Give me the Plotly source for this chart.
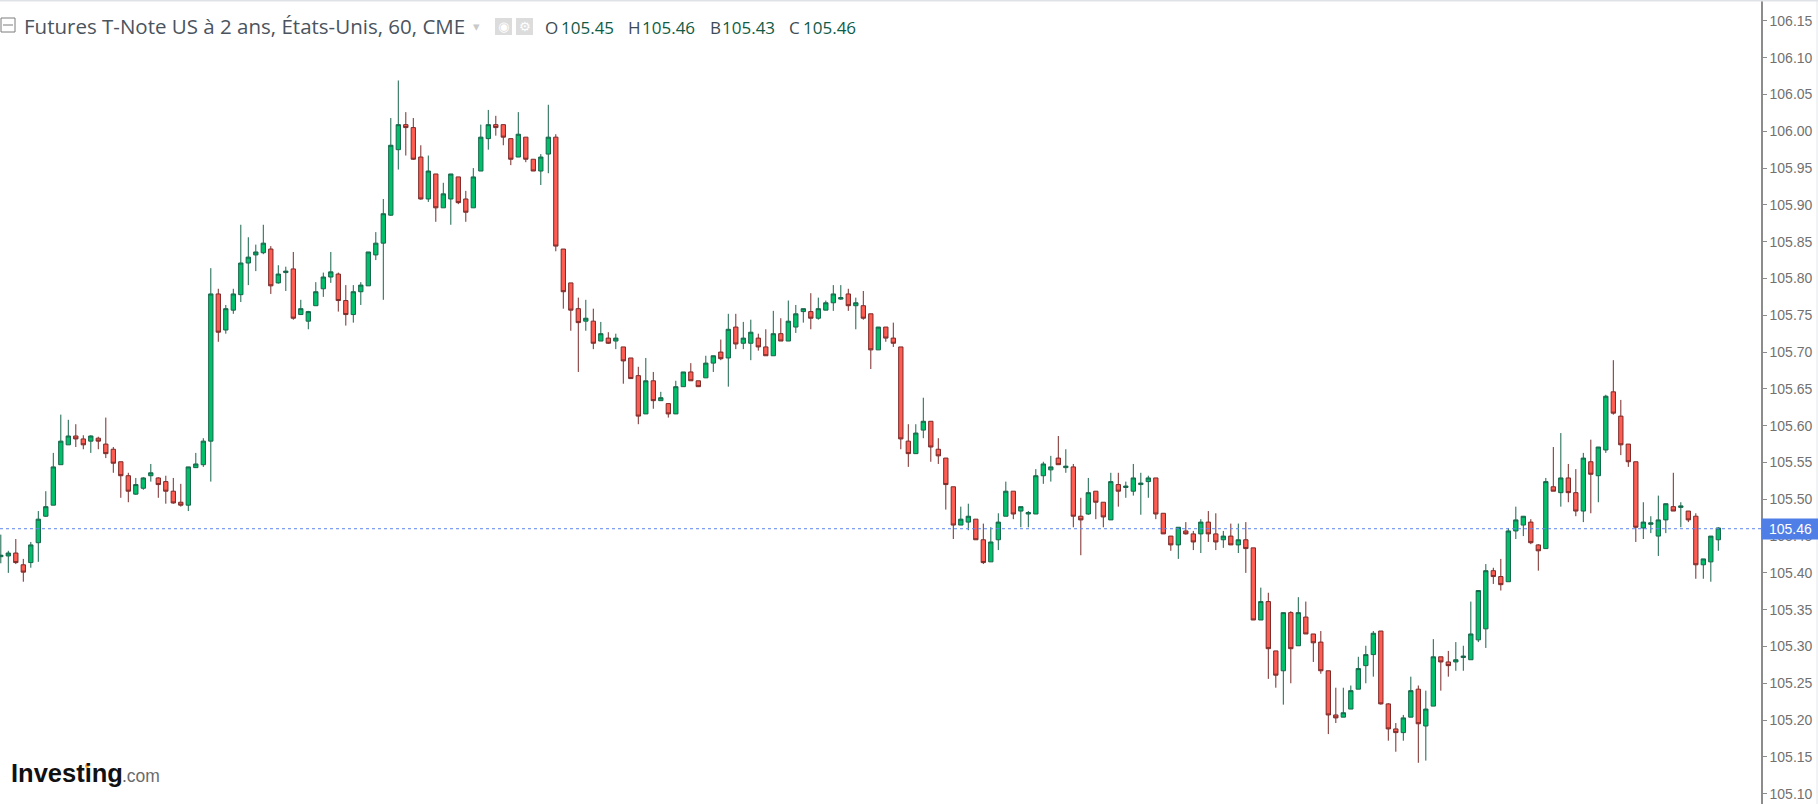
import plotly.graph_objects as go

# hourly candles, oldest first
opens = [
    105.422, 105.423, 105.427, 105.411, 105.414, 105.441, 105.477, 105.492, 105.547, 105.574,
    105.586, 105.582, 105.579, 105.583, 105.575, 105.568, 105.551, 105.532, 105.507, 105.515,
    105.532, 105.529, 105.524, 105.511, 105.496, 105.492, 105.543, 105.547, 105.579, 105.779,
    105.730, 105.757, 105.778, 105.821, 105.832, 105.835, 105.840, 105.794, 105.808, 105.813,
    105.751, 105.742, 105.763, 105.786, 105.802, 105.806, 105.770, 105.751, 105.782, 105.790,
    105.832, 105.848, 105.886, 105.975, 106.009, 106.005, 105.965, 105.908, 105.942, 105.896,
    105.908, 105.938, 105.908, 105.896, 105.946, 105.990, 106.009, 106.009, 105.990, 105.965,
    105.992, 105.962, 105.946, 105.969, 105.992, 105.840, 105.794, 105.759, 105.742, 105.742,
    105.715, 105.719, 105.715, 105.707, 105.692, 105.668, 105.616, 105.661, 105.634, 105.630,
    105.616, 105.653, 105.673, 105.661, 105.665, 105.685, 105.700, 105.692, 105.734, 105.712,
    105.712, 105.719, 105.707, 105.695, 105.725, 105.715, 105.734, 105.755, 105.755, 105.746,
    105.757, 105.767, 105.772, 105.779, 105.763, 105.763, 105.752, 105.703, 105.734, 105.719,
    105.707, 105.579, 105.562, 105.594, 105.606, 105.568, 105.556, 105.517, 105.465, 105.469,
    105.473, 105.445, 105.415, 105.445, 105.477, 105.511, 105.484, 105.480, 105.480, 105.532,
    105.540, 105.556, 105.543, 105.544, 105.477, 105.480, 105.511, 105.496, 105.472, 105.520,
    105.516, 105.511, 105.520, 105.524, 105.529, 105.481, 105.450, 105.438, 105.457, 105.453,
    105.453, 105.469, 105.453, 105.445, 105.450, 105.438, 105.445, 105.434, 105.336, 105.361,
    105.294, 105.267, 105.346, 105.301, 105.340, 105.317, 105.306, 105.267, 105.207, 105.204,
    105.215, 105.242, 105.274, 105.289, 105.321, 105.222, 105.188, 105.183, 105.204, 105.242,
    105.192, 105.219, 105.286, 105.279, 105.279, 105.285, 105.282, 105.309, 105.324, 105.403,
    105.395, 105.388, 105.457, 105.465, 105.469, 105.438, 105.433, 105.517, 105.509, 105.529,
    105.509, 105.484, 105.551, 105.532, 105.567, 105.646, 105.613, 105.575, 105.551, 105.461,
    105.466, 105.450, 105.472, 105.490, 105.489, 105.484, 105.477, 105.411, 105.415, 105.445,
]
highs = [
    105.452, 105.430, 105.446, 105.419, 105.442, 105.484, 105.511, 105.563, 105.615, 105.608,
    105.602, 105.587, 105.587, 105.585, 105.611, 105.571, 105.551, 105.536, 105.529, 105.530,
    105.548, 105.530, 105.532, 105.529, 105.521, 105.544, 105.563, 105.583, 105.814, 105.786,
    105.764, 105.786, 105.873, 105.856, 105.846, 105.873, 105.844, 105.818, 105.816, 105.836,
    105.771, 105.756, 105.795, 105.808, 105.836, 105.808, 105.791, 105.791, 105.795, 105.836,
    105.863, 105.908, 106.018, 106.069, 106.026, 106.018, 105.981, 105.967, 105.942, 105.930,
    105.942, 105.938, 105.919, 105.950, 106.009, 106.029, 106.021, 106.009, 105.990, 106.026,
    105.992, 105.962, 105.969, 106.036, 105.996, 105.840, 105.794, 105.774, 105.771, 105.759,
    105.741, 105.727, 105.725, 105.707, 105.692, 105.680, 105.692, 105.673, 105.646, 105.630,
    105.661, 105.673, 105.685, 105.661, 105.695, 105.695, 105.717, 105.752, 105.752, 105.741,
    105.744, 105.725, 105.731, 105.756, 105.746, 105.770, 105.764, 105.759, 105.780, 105.774,
    105.770, 105.791, 105.791, 105.786, 105.774, 105.783, 105.752, 105.734, 105.734, 105.740,
    105.707, 105.602, 105.602, 105.638, 105.606, 105.583, 105.556, 105.517, 105.490, 105.494,
    105.473, 105.467, 105.462, 105.481, 105.524, 105.511, 105.490, 105.484, 105.541, 105.551,
    105.559, 105.586, 105.568, 105.548, 105.502, 105.529, 105.511, 105.496, 105.536, 105.536,
    105.524, 105.548, 105.536, 105.532, 105.529, 105.481, 105.450, 105.462, 105.469, 105.457,
    105.473, 105.484, 105.481, 105.457, 105.467, 105.467, 105.469, 105.434, 105.380, 105.373,
    105.294, 105.346, 105.348, 105.367, 105.361, 105.317, 105.321, 105.267, 105.244, 105.244,
    105.247, 105.286, 105.301, 105.321, 105.321, 105.223, 105.196, 105.207, 105.259, 105.247,
    105.240, 105.310, 105.286, 105.294, 105.306, 105.301, 105.361, 105.376, 105.412, 105.407,
    105.419, 105.461, 105.490, 105.477, 105.473, 105.439, 105.529, 105.571, 105.590, 105.548,
    105.541, 105.563, 105.581, 105.571, 105.642, 105.689, 105.635, 105.575, 105.551, 105.496,
    105.477, 105.505, 105.494, 105.536, 105.496, 105.484, 105.481, 105.419, 105.450, 105.462,
]
lows = [
    105.413, 105.400, 105.412, 105.388, 105.407, 105.415, 105.476, 105.492, 105.547, 105.574,
    105.571, 105.568, 105.563, 105.568, 105.556, 105.536, 105.502, 105.496, 105.506, 105.513,
    105.524, 105.502, 105.494, 105.494, 105.490, 105.484, 105.543, 105.544, 105.524, 105.714,
    105.725, 105.752, 105.768, 105.791, 105.810, 105.833, 105.779, 105.793, 105.783, 105.744,
    105.751, 105.731, 105.763, 105.775, 105.794, 105.755, 105.736, 105.740, 105.764, 105.790,
    105.825, 105.771, 105.885, 105.948, 105.967, 105.961, 105.907, 105.904, 105.877, 105.896,
    105.873, 105.901, 105.877, 105.896, 105.946, 105.975, 105.994, 105.981, 105.954, 105.965,
    105.958, 105.946, 105.927, 105.943, 105.837, 105.759, 105.729, 105.673, 105.729, 105.704,
    105.715, 105.711, 105.704, 105.657, 105.664, 105.602, 105.616, 105.623, 105.634, 105.611,
    105.616, 105.653, 105.661, 105.653, 105.665, 105.673, 105.689, 105.653, 105.704, 105.704,
    105.689, 105.702, 105.695, 105.695, 105.715, 105.715, 105.726, 105.740, 105.731, 105.744,
    105.757, 105.756, 105.771, 105.756, 105.731, 105.744, 105.677, 105.703, 105.714, 105.707,
    105.568, 105.544, 105.562, 105.583, 105.551, 105.548, 105.486, 105.446, 105.465, 105.458,
    105.445, 105.412, 105.415, 105.431, 105.477, 105.473, 105.462, 105.462, 105.480, 105.521,
    105.524, 105.547, 105.536, 105.462, 105.424, 105.479, 105.473, 105.462, 105.472, 105.490,
    105.502, 105.505, 105.479, 105.502, 105.473, 105.453, 105.430, 105.419, 105.452, 105.431,
    105.427, 105.442, 105.431, 105.434, 105.438, 105.427, 105.400, 105.336, 105.336, 105.256,
    105.244, 105.221, 105.250, 105.301, 105.317, 105.279, 105.263, 105.181, 105.196, 105.204,
    105.215, 105.242, 105.250, 105.259, 105.221, 105.172, 105.157, 105.172, 105.204, 105.142,
    105.145, 105.219, 105.240, 105.259, 105.267, 105.267, 105.282, 105.306, 105.298, 105.385,
    105.376, 105.388, 105.446, 105.450, 105.439, 105.403, 105.433, 105.511, 105.490, 105.496,
    105.477, 105.469, 105.481, 105.496, 105.563, 105.615, 105.560, 105.544, 105.442, 105.446,
    105.454, 105.423, 105.454, 105.484, 105.462, 105.469, 105.392, 105.392, 105.388, 105.430,
]
closes = [
    105.424, 105.427, 105.414, 105.401, 105.438, 105.473, 105.490, 105.544, 105.579, 105.586,
    105.582, 105.574, 105.586, 105.579, 105.562, 105.549, 105.532, 105.511, 105.520, 105.529,
    105.536, 105.520, 105.511, 105.495, 105.492, 105.544, 105.548, 105.579, 105.779, 105.727,
    105.759, 105.779, 105.821, 105.829, 105.836, 105.848, 105.790, 105.806, 105.810, 105.746,
    105.759, 105.755, 105.782, 105.802, 105.809, 105.770, 105.751, 105.782, 105.791, 105.836,
    105.848, 105.888, 105.981, 106.009, 106.005, 105.962, 105.908, 105.946, 105.896, 105.915,
    105.942, 105.903, 105.890, 105.938, 105.992, 106.009, 106.005, 105.992, 105.962, 105.996,
    105.962, 105.946, 105.965, 105.992, 105.844, 105.782, 105.757, 105.740, 105.746, 105.712,
    105.725, 105.712, 105.719, 105.688, 105.664, 105.613, 105.661, 105.634, 105.638, 105.616,
    105.653, 105.673, 105.661, 105.653, 105.685, 105.695, 105.691, 105.731, 105.711, 105.719,
    105.727, 105.707, 105.695, 105.725, 105.715, 105.742, 105.752, 105.759, 105.746, 105.759,
    105.767, 105.779, 105.774, 105.763, 105.767, 105.746, 105.703, 105.734, 105.719, 105.712,
    105.582, 105.562, 105.590, 105.606, 105.571, 105.559, 105.520, 105.465, 105.473, 105.477,
    105.445, 105.414, 105.442, 105.469, 105.511, 105.480, 105.490, 105.482, 105.532, 105.548,
    105.544, 105.547, 105.545, 105.477, 105.472, 105.509, 105.496, 105.476, 105.524, 105.511,
    105.518, 105.529, 105.522, 105.529, 105.480, 105.453, 105.438, 105.462, 105.453, 105.442,
    105.469, 105.453, 105.442, 105.450, 105.438, 105.445, 105.433, 105.336, 105.361, 105.297,
    105.261, 105.346, 105.297, 105.346, 105.317, 105.305, 105.267, 105.207, 105.203, 105.210,
    105.240, 105.270, 105.289, 105.318, 105.222, 105.188, 105.183, 105.203, 105.240, 105.195,
    105.215, 105.286, 105.279, 105.274, 105.282, 105.287, 105.317, 105.376, 105.403, 105.395,
    105.384, 105.457, 105.472, 105.477, 105.441, 105.430, 105.524, 105.511, 105.529, 105.509,
    105.484, 105.556, 105.534, 105.571, 105.640, 105.617, 105.574, 105.551, 105.462, 105.469,
    105.468, 105.472, 105.494, 105.484, 105.491, 105.472, 105.411, 105.419, 105.450, 105.461,
]

y_ticks = [105.10, 105.15, 105.20, 105.25, 105.30, 105.35, 105.40, 105.45, 105.50, 105.55,
           105.60, 105.65, 105.70, 105.75, 105.80, 105.85, 105.90, 105.95, 106.00, 106.05,
           106.10, 106.15]
last_price = 105.46
title_text = "Futures T-Note US à 2 ans, États-Unis, 60, CME"
ohlc_labels = ["O", "H", "B", "C"]
ohlc_values = ["105.45", "105.46", "105.43", "105.46"]

PLOT_W = 1761
PLOT_H = 803

def px(x):  # header/logo pixels to paper
    return x / PLOT_W

def py(y):
    return 1 - (y - 1) / PLOT_H

fig = go.Figure()
fig.add_trace(go.Candlestick(
    x=list(range(len(closes))),
    open=opens,
    high=highs,
    low=lows,
    close=closes,
    increasing=dict(fillcolor="#00c06b", line=dict(color="#17654a", width=1)),
    decreasing=dict(fillcolor="#ff5c52", line=dict(color="#7a2a28", width=1)),
    hoverinfo="skip",
))

fig.update_layout(
    width=1818,
    height=804,
    margin=dict(l=0, r=57, t=1, b=0),
    paper_bgcolor="white",
    plot_bgcolor="white",
    showlegend=False,
    boxgap=0.18,
    xaxis=dict(visible=False, range=[-0.107, 234.69], rangeslider=dict(visible=False)),
    yaxis=dict(
        side="right",
        range=[105.086, 106.177],
        tickvals=y_ticks,
        tickformat=".2f",
        showgrid=False,
        zeroline=False,
        showline=True,
        linecolor="#8c8c8c",
        linewidth=1.5,
        ticks="outside",
        ticklen=4,
        tickcolor="#8c8c8c",
        tickfont=dict(family="Liberation Sans", size=14, color="#717171"),
    ),
)

# last price line and its tag
fig.add_shape(type="line", xref="paper", x0=0, x1=1, yref="y", y0=last_price, y1=last_price,
              line=dict(color="#5f86ee", width=1, dash="dot"))
fig.add_annotation(xref="paper", x=1, xanchor="left", yref="y", y=last_price, yanchor="middle",
                   text=f"{last_price:.2f}", showarrow=False, width=57, height=20, borderpad=0,
                   bgcolor="#4f7ee6", font=dict(family="Liberation Sans", size=14, color="white"))

# frame bits outside the plot
fig.add_shape(type="line", xref="paper", yref="paper", x0=0, x1=px(1818), y0=py(0.5), y1=py(0.5),
              line=dict(color="#dfe3e8", width=2))
fig.add_shape(type="line", xref="paper", yref="paper", x0=px(1817), x1=px(1817), y0=0, y1=1,
              line=dict(color="#e3e6ea", width=1))

# collapse icon
fig.add_shape(type="rect", xref="paper", yref="paper", x0=px(1), x1=px(15), y0=py(32), y1=py(18),
              line=dict(color="#7d7d7d", width=1))
fig.add_shape(type="line", xref="paper", yref="paper", x0=px(3), x1=px(13), y0=py(25), y1=py(25),
              line=dict(color="#7d7d7d", width=1))

def header_text(x, y, text, size, color, family="Open Sans"):
    fig.add_annotation(xref="paper", yref="paper", x=px(x), y=py(y), xanchor="left", yanchor="middle",
                       text=text, showarrow=False, borderpad=0,
                       font=dict(family=family, size=size, color=color))

header_text(23, 26, title_text, 20.5, "#4a545e")
header_text(472, 26, "▾", 13, "#c9c9c9", "DejaVu Sans")

# eye and gear buttons
for x0, glyph in [(495, "◉"), (516, "⚙")]:
    fig.add_shape(type="rect", xref="paper", yref="paper", x0=px(x0), x1=px(x0 + 17), y0=py(35), y1=py(18),
                  fillcolor="#dcdcdc", line=dict(width=0))
    header_text(x0 + 2, 26.5, glyph, 13, "white", "DejaVu Sans")

# legend readout
label_x = [544, 627, 709, 788]
value_x = [560, 641, 721, 802]
for lx, vx, lab, val in zip(label_x, value_x, ohlc_labels, ohlc_values):
    header_text(lx, 27, lab, 17, "#3d4a55")
    header_text(vx, 27, val, 17, "#0f5c46")

# logo
header_text(10, 773, "<b>Investing</b>", 25.5, "#111111", "Liberation Sans")
header_text(121, 776, ".com", 17.5, "#6b6b6b", "Liberation Sans")
fig.add_shape(type="circle", xref="paper", yref="paper", x0=px(85), x1=px(89), y0=py(768), y1=py(764),
              fillcolor="#f5a623", line=dict(width=0))

fig.write_html("out.html", config={"displayModeBar": False}, post_script="document.body.style.margin='0';")
